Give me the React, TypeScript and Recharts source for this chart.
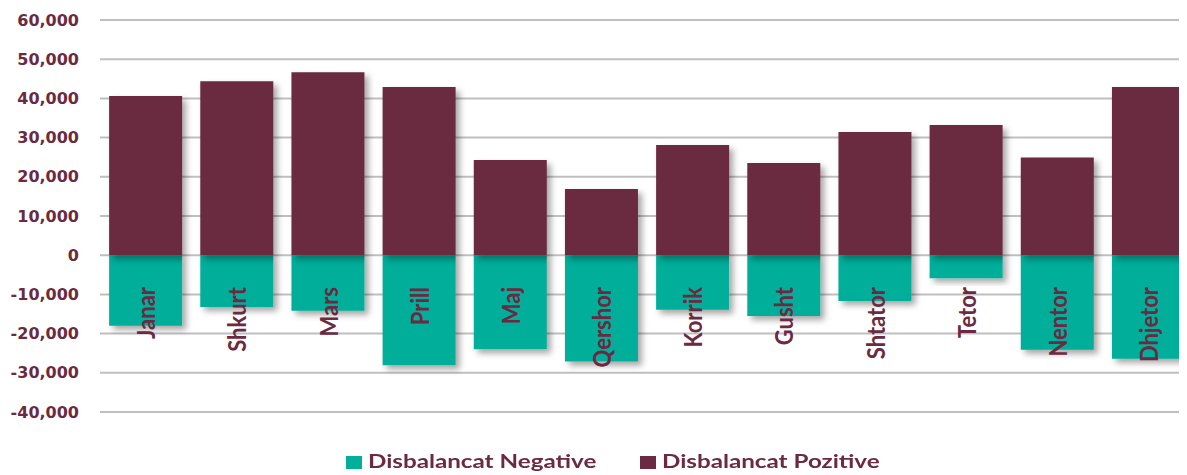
import * as React from 'react';
import { BarChart, Bar, XAxis, YAxis, CartesianGrid, Legend, Rectangle } from 'recharts';

const months = ['Janar', 'Shkurt', 'Mars', 'Prill', 'Maj', 'Qershor', 'Korrik', 'Gusht', 'Shtator', 'Tetor', 'Nentor', 'Dhjetor'];
const negative = [-18000, -13200, -14200, -28100, -24000, -27100, -13900, -15500, -11700, -5900, -24100, -26400];
const positive = [40600, 44400, 46700, 42900, 24300, 16900, 28100, 23500, 31400, 33200, 24900, 42900];
const yTicks = [-40000, -30000, -20000, -10000, 0, 10000, 20000, 30000, 40000, 50000, 60000];

const MAROON = '#6B2A41';
const TEAL = '#00AE9A';

const data = months.map((m, i) => ({ month: m, neg: negative[i], pos: positive[i] }));

const fmt = (v: number) => v.toLocaleString('en-US');

// source picture is stretched sideways, so text gets a little horizontal scale
const MonthTick = ({ x, y, payload }: any) => (
  <g transform={`translate(${x},${y - 125})`}>
    <text
      transform="scale(1.15,1) rotate(-90)"
      textAnchor="end"
      dominantBaseline="central"
      fill={MAROON}
      fontFamily="Lato"
      fontWeight="bold"
      fontSize={22}
    >
      {payload.value}
    </text>
  </g>
);

const ShadowBar = (props: any) => <Rectangle {...props} filter="url(#barShadow)" />;

const legendItems = [
  { name: 'Disbalancat Negative', color: TEAL, w: 227 },
  { name: 'Disbalancat Pozitive', color: MAROON, w: 215 },
];

const LegendContent = () => (
  <div style={{ display: 'flex', justifyContent: 'center', gap: 45, paddingLeft: 28, paddingTop: 6, lineHeight: '22px' }}>
    {legendItems.map((it) => (
      <div key={it.name} style={{ display: 'flex', alignItems: 'center', gap: 6 }}>
        <span style={{ width: 16, height: 13, background: it.color, display: 'inline-block' }} />
        <span style={{ width: it.w, display: 'inline-block', whiteSpace: 'nowrap' }}>
          <span
            style={{
              display: 'inline-block',
              color: MAROON,
              fontFamily: 'Lato',
              fontWeight: 'bold',
              fontSize: 19.5,
              transform: 'scaleX(1.24)',
              transformOrigin: 'left center',
            }}
          >
            {it.name}
          </span>
        </span>
      </div>
    ))}
  </div>
);

export default function App() {
  return (
    <div style={{ margin: '-8px 0 0 -8px', width: 1187, height: 475, background: '#fff', overflow: 'hidden' }}>
      <svg width={0} height={0} style={{ position: 'absolute' }}>
        <defs>
          <filter id="barShadow" x="-20%" y="-20%" width="150%" height="150%">
            <feDropShadow dx={4} dy={4} stdDeviation={3} floodColor="#000" floodOpacity={0.35} />
          </filter>
        </defs>
      </svg>
      <BarChart
        width={1187}
        height={475}
        data={data}
        stackOffset="sign"
        barCategoryGap="10%"
        margin={{ top: 20, right: -7, left: 0, bottom: 0 }}
      >
        <CartesianGrid vertical={false} stroke="#BFBFBF" strokeWidth={2} />
        <XAxis
          dataKey="month"
          axisLine={false}
          tickLine={false}
          tickSize={0}
          tickMargin={0}
          height={32}
          interval={0}
          tick={<MonthTick />}
        />
        <YAxis
          width={100}
          domain={[-40000, 60000]}
          ticks={yTicks}
          tickFormatter={fmt}
          axisLine={false}
          tickLine={false}
          tickSize={0}
          tickMargin={21}
          interval={0}
          tick={{ fill: MAROON, fontFamily: 'DejaVu Sans', fontWeight: 'bold', fontSize: 16 }}
        />
        <Legend verticalAlign="bottom" height={31} content={<LegendContent />} />
        <Bar dataKey="neg" stackId="a" fill={TEAL} isAnimationActive={false} shape={<ShadowBar />} />
        <Bar dataKey="pos" stackId="a" fill={MAROON} isAnimationActive={false} shape={<ShadowBar />} />
      </BarChart>
    </div>
  );
}
